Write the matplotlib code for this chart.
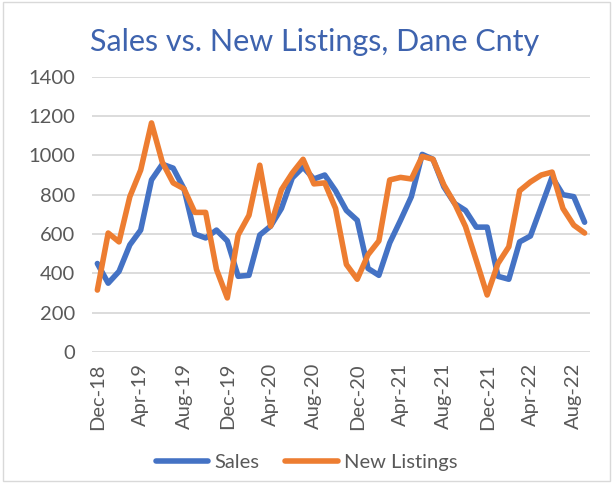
import matplotlib
matplotlib.use("Agg")
import matplotlib.pyplot as plt
from matplotlib.patches import Rectangle
import pandas as pd

# monthly, Dec-2018 .. Sep-2022
months = pd.date_range("2018-12-01", periods=46, freq="MS")
month_labels = [m.strftime("%b-%y") for m in months]

sales = [450, 350, 410, 545, 620, 875, 955, 935, 830, 600,
         580, 620, 565, 385, 390, 595, 640, 730, 885, 940,
         880, 900, 820, 720, 670, 425, 390, 555, 670, 790,
         1005, 980, 840, 755, 720, 635, 635, 385, 370, 560,
         590, 740, 890, 800, 790, 660]

new_listings = [315, 605, 560, 790, 925, 1165, 965, 860, 830, 710,
                710, 420, 275, 595, 695, 950, 640, 825, 910, 980,
                855, 860, 730, 445, 370, 495, 565, 875, 888, 880,
                995, 980, 850, 755, 638, 465, 290, 450, 535, 820,
                865, 900, 915, 730, 645, 605]

yticks = [0, 200, 400, 600, 800, 1000, 1200, 1400]

BLUE = "#4472C4"
ORANGE = "#ED7D31"
GRID = "#D9D9D9"
TXT = "#595959"

plt.rcParams["font.family"] = ["Lato", "DejaVu Sans"]

fig = plt.figure(figsize=(6.13, 4.83), dpi=100)
ax = fig.add_axes([0.150, 0.2712, 0.8125, 0.570])

x = list(range(len(months)))
ax.plot(x, sales, color=BLUE, lw=4.0, solid_joinstyle="round",
        solid_capstyle="round", label="Sales", zorder=3)
ax.plot(x, new_listings, color=ORANGE, lw=4.0, solid_joinstyle="round",
        solid_capstyle="round", label="New Listings", zorder=4)

ax.set_xlim(-0.5, len(months) - 0.5)
ax.set_ylim(0, 1400)
ax.set_yticks(yticks)
ax.set_yticklabels([str(v) for v in yticks])
ax.set_xticks(x[::4])
ax.set_xticklabels(month_labels[::4], rotation=90)

ax.grid(axis="y", color=GRID, lw=1.3)
ax.set_axisbelow(True)
for s in ax.spines.values():
    s.set_visible(False)
ax.tick_params(length=0, labelsize=14.5, colors=TXT)
ax.tick_params(axis="y", pad=12)
ax.tick_params(axis="x", pad=8)

fig.text(0.514, 0.913, "Sales vs. New Listings, Dane Cnty", ha="center", va="center",
         fontsize=22, color="#3E63AE")

fig.legend(loc="center", bbox_to_anchor=(0.5, 0.043), ncol=2, frameon=False,
           fontsize=14.5, handlelength=2.6, columnspacing=1.3, handletextpad=0.3,
           labelcolor=TXT)

fig.patches.append(Rectangle((0.005, 0.005), 0.99, 0.99, transform=fig.transFigure,
                             fill=False, edgecolor=GRID, lw=1.0))

fig.savefig("out.png", dpi=100)
